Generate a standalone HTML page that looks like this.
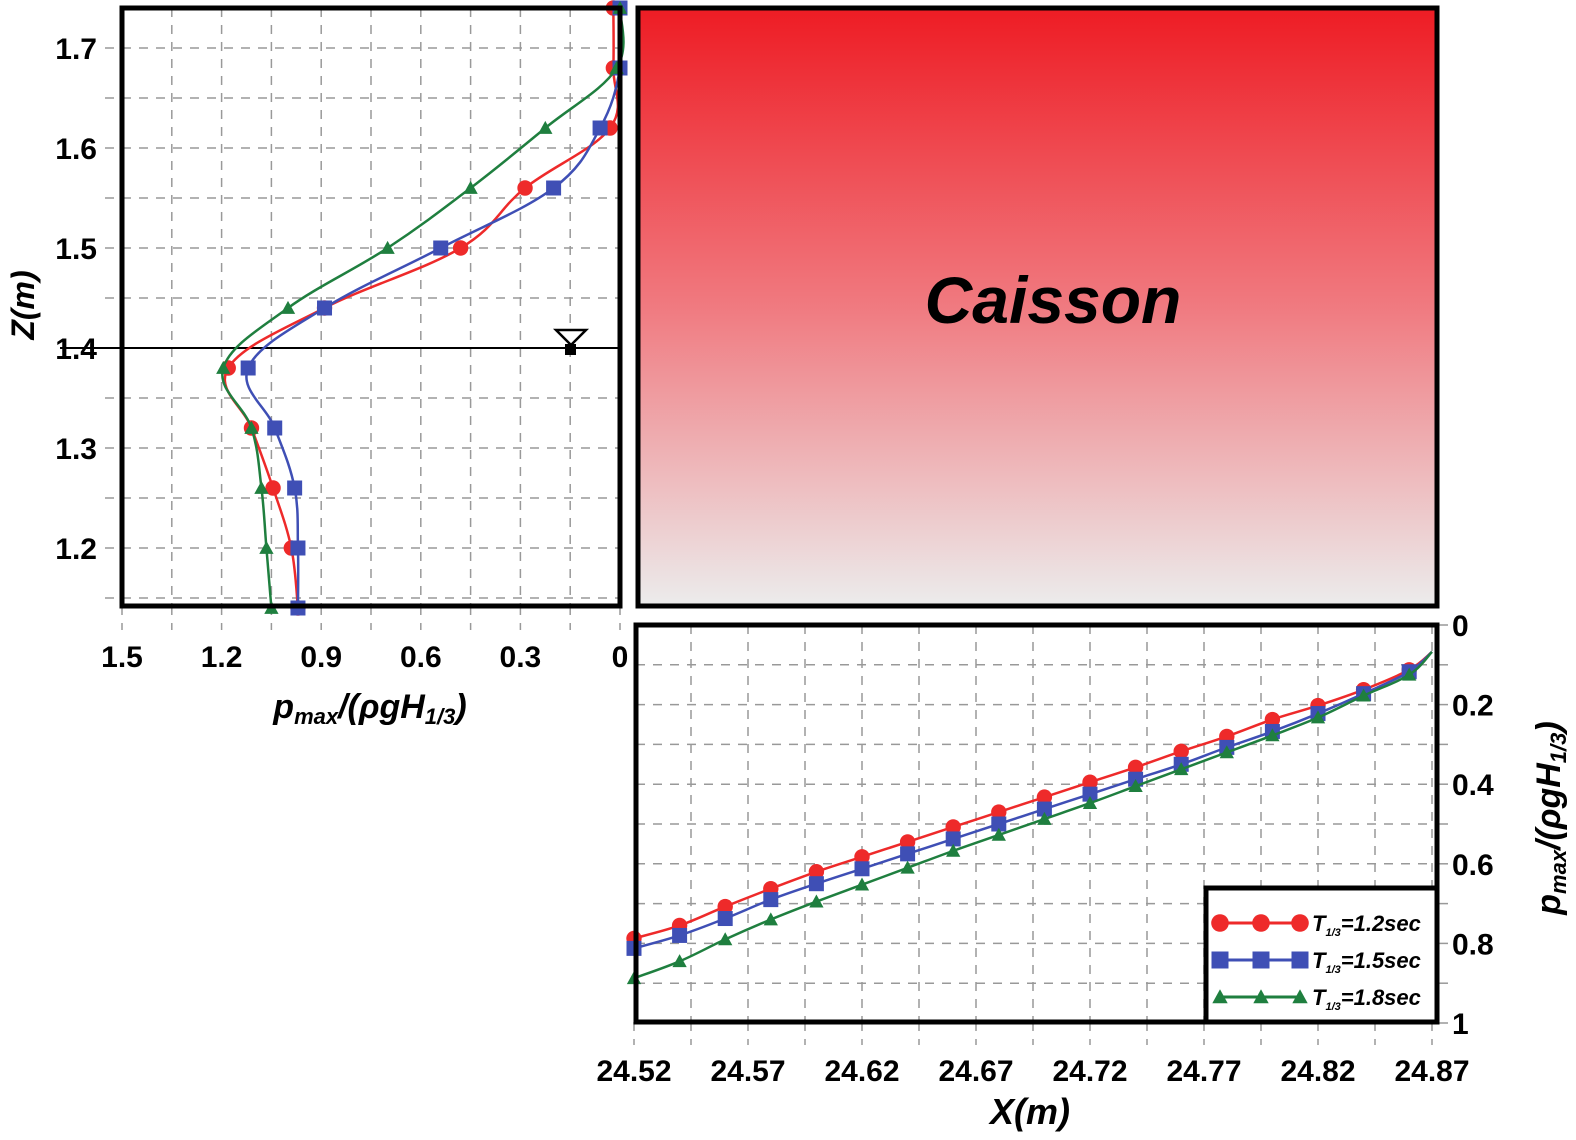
<!DOCTYPE html>
<html><head><meta charset="utf-8">
<style>
html,body{margin:0;padding:0;background:#fff;}
svg{display:block;font-family:"Liberation Sans",Arial,sans-serif;}
</style></head>
<body>
<svg id="fig" width="1576" height="1140" viewBox="0 0 1576 1140" xmlns="http://www.w3.org/2000/svg">
<defs>
<linearGradient id="cg" x1="0" y1="0" x2="0" y2="1">
<stop offset="0" stop-color="#ee1c24"/>
<stop offset="0.5" stop-color="#f07a80"/>
<stop offset="1" stop-color="#ececec"/>
</linearGradient>
</defs>
<g id="left"></g>
<g id="caisson">
<rect x="638" y="8" width="799" height="598" fill="url(#cg)" stroke="#000" stroke-width="5"/>
<text x="1053" y="323" font-size="66" font-weight="bold" font-style="italic" text-anchor="middle">Caisson</text>
</g>
<g id="bottom"></g>
</svg>
<script>
// ---- Left chart data ----
const leftZ = [1.74,1.68,1.62,1.56,1.50,1.44,1.38,1.32,1.26,1.20,1.14];
const leftRed = [0.02,0.02,0.03,0.286,0.48,0.89,1.18,1.11,1.045,0.99,0.97];
const leftBlue = [0.0,0.0,0.06,0.20,0.54,0.89,1.12,1.04,0.98,0.97,0.97];
const leftGreen = [0.0,0.01,0.225,0.45,0.70,1.00,1.195,1.11,1.08,1.065,1.05];
const leftXTicks = [1.5,1.2,0.9,0.6,0.3,0];
const leftXTickLabels = ["1.5","1.2","0.9","0.6","0.3","0"];
const leftYTicks = [1.2,1.3,1.4,1.5,1.6,1.7];
const leftYTickLabels = ["1.2","1.3","1.4","1.5","1.6","1.7"];
// ---- Bottom chart data ----
const botX = [24.52,24.54,24.56,24.58,24.60,24.62,24.64,24.66,24.68,24.70,24.72,24.74,24.76,24.78,24.80,24.82,24.84,24.86];
const botRed = [0.7875,0.755,0.7075,0.6625,0.62,0.5825,0.545,0.5075,0.47,0.4325,0.395,0.3575,0.3175,0.28,0.2375,0.2025,0.1625,0.1125];
const botBlue = [0.8125,0.78,0.7375,0.69,0.65,0.6125,0.575,0.5375,0.5,0.4625,0.425,0.3875,0.35,0.3075,0.2675,0.2225,0.1725,0.1175];
const botGreen = [0.8875,0.845,0.79,0.74,0.695,0.6525,0.61,0.5675,0.5275,0.4875,0.4475,0.405,0.3625,0.32,0.2775,0.2325,0.1775,0.125];
const botEndX = [24.87];
const botEndY = [0.0675];
const botXTicks = [24.52,24.57,24.62,24.67,24.72,24.77,24.82,24.87];
const botXTickLabels = ["24.52","24.57","24.62","24.67","24.72","24.77","24.82","24.87"];
const botYTicks = [0,0.2,0.4,0.6,0.8,1];
const botYTickLabels = ["0","0.2","0.4","0.6","0.8","1"];

const NS = "http://www.w3.org/2000/svg";
function mk(tag, attrs, parent){const e=document.createElementNS(NS,tag);for(const k in attrs)e.setAttribute(k,attrs[k]);parent.appendChild(e);return e;}
function smooth(pts){
  let d="M"+pts[0][0]+","+pts[0][1];
  for(let i=0;i<pts.length-1;i++){
    const p0=pts[i-1]||pts[i],p1=pts[i],p2=pts[i+1],p3=pts[i+2]||p2;
    const t=0.18;
    d+=" C"+(p1[0]+(p2[0]-p0[0])*t)+","+(p1[1]+(p2[1]-p0[1])*t)+" "+(p2[0]-(p3[0]-p1[0])*t)+","+(p2[1]-(p3[1]-p1[1])*t)+" "+p2[0]+","+p2[1];
  }
  return d;
}
function marker(g,type,x,y,color,s){
  let m;
  if(type==="circle") m=mk("circle",{cx:x,cy:y,r:s*0.55,fill:color},g);
  else if(type==="square") m=mk("rect",{x:x-s*0.5,y:y-s*0.5,width:s,height:s,fill:color},g);
  else m=mk("polygon",{points:(x)+","+(y-s*0.55)+" "+(x-s*0.55)+","+(y+s*0.45)+" "+(x+s*0.55)+","+(y+s*0.45),fill:color},g);
  return m;
}
const RED="#ee2a2a",BLUE="#3f4fb5",GREEN="#1f7f3f";

// ===== Left chart =====
(function(){
  const g=document.getElementById("left");
  const L=122,R=620,T=8,B=606;
  const xs=v=>R-v*332;
  const ys=z=>348-(z-1.4)*1000;
  const grid=mk("g",{stroke:"#999","stroke-width":1.5,"stroke-dasharray":"9,8",fill:"none"},g);
  
  
  for(let v=0.15;v<1.5;v+=0.15){mk("line",{x1:xs(v),y1:T,x2:xs(v),y2:B},grid);}
  for(let v=0;v<=1.5001;v+=0.15){mk("line",{x1:xs(v),y1:B,x2:xs(v),y2:630},grid);}
  for(let z=1.15;z<1.74;z+=0.05){mk("line",{x1:105,y1:ys(z),x2:R,y2:ys(z)},grid);}
  const wl=mk("line",{x1:60,y1:348,x2:R,y2:348,stroke:"#000","stroke-width":2},g);
  
  
  const tri=mk("polygon",{points:"556,330 586,330 571,345",fill:"#fff",stroke:"#000","stroke-width":2.5},g);
  
  
  mk("rect",{x:565,y:344,width:11,height:11,fill:"#000"},g);
  const series=[[leftRed,RED,"circle","left-series-t12"],[leftBlue,BLUE,"square","left-series-t15"],[leftGreen,GREEN,"triangle","left-series-t18"]];
  for(const [vals,col,type,name] of series){
    const sg=mk("g",{},g);
    
    
    const pts=vals.map((v,i)=>[xs(v),ys(leftZ[i])]);
    mk("path",{d:smooth(pts),fill:"none",stroke:col,"stroke-width":2.5},sg);
    const sz=type==="square"?15:(type==="circle"?14:13);
    pts.forEach(p=>{const m=marker(sg,type,p[0],p[1],col,sz);
      
      });
  }
  const box=mk("rect",{x:L,y:T,width:R-L,height:B-T,fill:"none",stroke:"#000","stroke-width":5},g);
  
  
  leftXTicks.forEach((v,i)=>{const t=mk("text",{x:xs(v),y:667,"font-size":30,"font-weight":"bold","text-anchor":"middle"},g);t.textContent=leftXTickLabels[i];
    
    });
  leftYTicks.forEach((v,i)=>{const t=mk("text",{x:97,y:ys(v)+11,"font-size":30,"font-weight":"bold","text-anchor":"end"},g);t.textContent=leftYTickLabels[i];
    
    });
  const xt=mk("text",{x:370,y:718,"font-size":34,"font-weight":"bold","font-style":"italic","text-anchor":"middle"},g);
  xt.innerHTML='p<tspan font-size="22" dy="6">max</tspan><tspan dy="-6">/(ρgH</tspan><tspan font-size="22" dy="6">1/3</tspan><tspan dy="-6">)</tspan>';
  
  
  const yt=mk("text",{x:0,y:0,"font-size":32,"font-weight":"bold","font-style":"italic","text-anchor":"middle",transform:"translate(34,305) rotate(-90)"},g);
  yt.textContent="Z(m)";
  
  
})();

// ===== Bottom chart =====
(function(){
  const g=document.getElementById("bottom");
  const L=636,R=1437,T=625,B=1022;
  const xs=x=>634+(x-24.52)*2280;
  const ys=v=>625+v*398;
  const grid=mk("g",{stroke:"#999","stroke-width":1.5,"stroke-dasharray":"9,8",fill:"none"},g);
  
  
  for(let x=24.545;x<24.87;x+=0.025){mk("line",{x1:xs(x),y1:T,x2:xs(x),y2:B},grid);}
  for(let x=24.52;x<=24.8701;x+=0.025){mk("line",{x1:xs(x),y1:B,x2:xs(x),y2:1045},grid);}
  for(let v=0.1;v<1;v+=0.1){mk("line",{x1:L,y1:ys(v),x2:R,y2:ys(v)},grid);}
  for(let v=0;v<=1.001;v+=0.1){mk("line",{x1:R,y1:ys(v),x2:1448,y2:ys(v),"stroke-dasharray":"none"},grid);}
  const series=[[botRed,RED,"circle","bottom-series-t12"],[botBlue,BLUE,"square","bottom-series-t15"],[botGreen,GREEN,"triangle","bottom-series-t18"]];
  for(const [vals,col,type,name] of series){
    const sg=mk("g",{},g);
    
    
    const pts=vals.map((v,i)=>[xs(botX[i]),ys(v)]);
    const all=pts.concat([[xs(botEndX[0]),ys(botEndY[0])]]);
    mk("path",{d:smooth(all),fill:"none",stroke:col,"stroke-width":2.5},sg);
    const sz=type==="square"?15:(type==="circle"?14:13);
    pts.forEach(p=>{const m=marker(sg,type,p[0],p[1],col,sz);
      
      });
  }
  const box=mk("rect",{x:L,y:T,width:R-L,height:B-T,fill:"none",stroke:"#000","stroke-width":5},g);
  
  
  botXTicks.forEach((v,i)=>{const t=mk("text",{x:xs(v),y:1081,"font-size":30,"font-weight":"bold","text-anchor":"middle"},g);t.textContent=botXTickLabels[i];
    
    });
  botYTicks.forEach((v,i)=>{const t=mk("text",{x:1452,y:ys(v)+11,"font-size":30,"font-weight":"bold","text-anchor":"start"},g);t.textContent=botYTickLabels[i];
    
    });
  const xt=mk("text",{x:1030,y:1124,"font-size":36,"font-weight":"bold","font-style":"italic","text-anchor":"middle"},g);
  xt.textContent="X(m)";
  
  
  const yt=mk("text",{x:0,y:0,"font-size":34,"font-weight":"bold","font-style":"italic","text-anchor":"middle",transform:"translate(1560,818) rotate(-90)"},g);
  yt.innerHTML='p<tspan font-size="22" dy="6">max</tspan><tspan dy="-6">/(ρgH</tspan><tspan font-size="22" dy="6">1/3</tspan><tspan dy="-6">)</tspan>';
  
  
  const lg=mk("g",{},g);
  
  
  mk("rect",{x:1206,y:888,width:231,height:134,fill:"#fff",stroke:"#000","stroke-width":5},lg);
  const ents=[[RED,"circle","1.2",923],[BLUE,"square","1.5",960],[GREEN,"triangle","1.8",997]];
  for(const [col,type,lab,y] of ents){
    const eg=mk("g",{},lg);
    
    
    mk("line",{x1:1220,y1:y,x2:1300,y2:y,stroke:col,"stroke-width":3},eg);
    const sz=type==="square"?17:(type==="circle"?16:14);
    [1220,1261,1300].forEach(x=>marker(eg,type,x,y,col,sz));
    const t=mk("text",{x:1312,y:y+8,"font-size":22,"font-weight":"bold","font-style":"italic"},eg);
    t.innerHTML='T<tspan font-size="11" dy="5">1/3</tspan><tspan dy="-5">=' + lab + 'sec</tspan>';
  }
})();
</script>
</body></html>
